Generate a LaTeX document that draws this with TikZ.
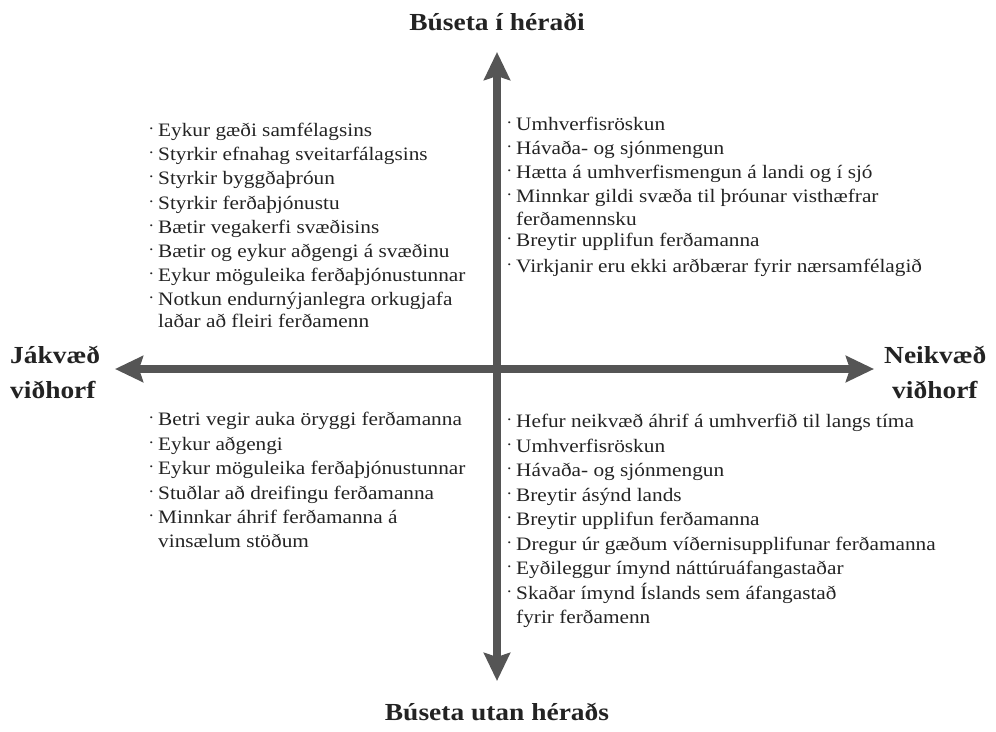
\documentclass[tikz,border=0pt]{standalone}
\usepackage{fontspec}
\setmainfont[FakeStretch=1.12]{Liberation Serif}
\usetikzlibrary{arrows.meta}
\definecolor{axisgray}{RGB}{85,85,85}
\definecolor{txtgray}{RGB}{35,35,35}
\newcommand{\pnt}{\makebox[9pt][l]{\raisebox{7pt}{\fontsize{16}{16}\selectfont .}}}
\newcommand{\cnt}{\makebox[9pt][l]{}}

\begin{document}
\begin{tikzpicture}[x=1pt,y=-1pt,
  item/.style={anchor=base west,inner sep=0pt,font=\fontsize{19}{24}\selectfont,text=txtgray},
  pole/.style={inner sep=0pt,font=\fontsize{24.5}{35}\selectfont\bfseries,text=txtgray},
  axis/.style={draw=axisgray,line width=8pt,
    {Stealth[length=28pt,width=26pt,inset=4pt]}-{Stealth[length=28pt,width=26pt,inset=4pt]}}]

\useasboundingbox (0,0) rectangle (996,731);

% poles
\node[pole] (up) at (497,22) {Búseta í héraði};
\node[pole] (down) at (497,712) {Búseta utan héraðs};
\node[pole,align=left,anchor=west] (pos) at (10,372) {Jákvæð\\viðhorf};
\node[pole,align=left,anchor=west] (neg) at (884,372) {Neikvæð\\\hspace*{8pt}viðhorf};

% axes
\coordinate (n) at (497,52);
\coordinate (s) at (497,681);
\coordinate (w) at (115,369);
\coordinate (e) at (874,369);
\draw[axis] (w) -- (e);
\draw[axis] (s) -- (n);

% top left
\foreach \y/\txt [count=\i] in {
  136/\pnt Eykur gæði samfélagsins,
  160/\pnt Styrkir efnahag sveitarfálagsins,
  184/\pnt Styrkir byggðaþróun,
  209/\pnt Styrkir ferðaþjónustu,
  233/\pnt Bætir vegakerfi svæðisins,
  257/\pnt Bætir og eykur aðgengi á svæðinu,
  281/\pnt Eykur möguleika ferðaþjónustunnar,
  305/\pnt Notkun endurnýjanlegra orkugjafa,
  327/\cnt laðar að fleiri ferðamenn}
  \node[item] (tl\i) at (149,\y) {\txt};

% top right
\foreach \y/\txt [count=\i] in {
  130/\pnt Umhverfisröskun,
  154/\pnt Hávaða- og sjónmengun,
  178/\pnt Hætta á umhverfismengun á landi og í sjó,
  202/\pnt Minnkar gildi svæða til þróunar visthæfrar,
  225/\cnt ferðamennsku,
  246/\pnt Breytir upplifun ferðamanna,
  272/\pnt Virkjanir eru ekki arðbærar fyrir nærsamfélagið}
  \node[item] (tr\i) at (507,\y) {\txt};

% bottom left
\foreach \y/\txt [count=\i] in {
  425/\pnt Betri vegir auka öryggi ferðamanna,
  450/\pnt Eykur aðgengi,
  474/\pnt Eykur möguleika ferðaþjónustunnar,
  499/\pnt Stuðlar að dreifingu ferðamanna,
  523/\pnt Minnkar áhrif  ferðamanna á,
  547/\cnt vinsælum stöðum}
  \node[item] (bl\i) at (149,\y) {\txt};

% bottom right
\foreach \y/\txt [count=\i] in {
  427/\pnt Hefur neikvæð áhrif á umhverfið til langs tíma,
  452/\pnt Umhverfisröskun,
  476/\pnt Hávaða- og sjónmengun,
  501/\pnt Breytir ásýnd lands,
  525/\pnt Breytir upplifun ferðamanna,
  550/\pnt Dregur úr gæðum víðernisupplifunar ferðamanna,
  574/\pnt Eyðileggur ímynd náttúruáfangastaðar,
  599/\pnt Skaðar ímynd Íslands sem áfangastað,
  623/\cnt fyrir ferðamenn}
  \node[item] (br\i) at (507,\y) {\txt};

\end{tikzpicture}
\end{document}
